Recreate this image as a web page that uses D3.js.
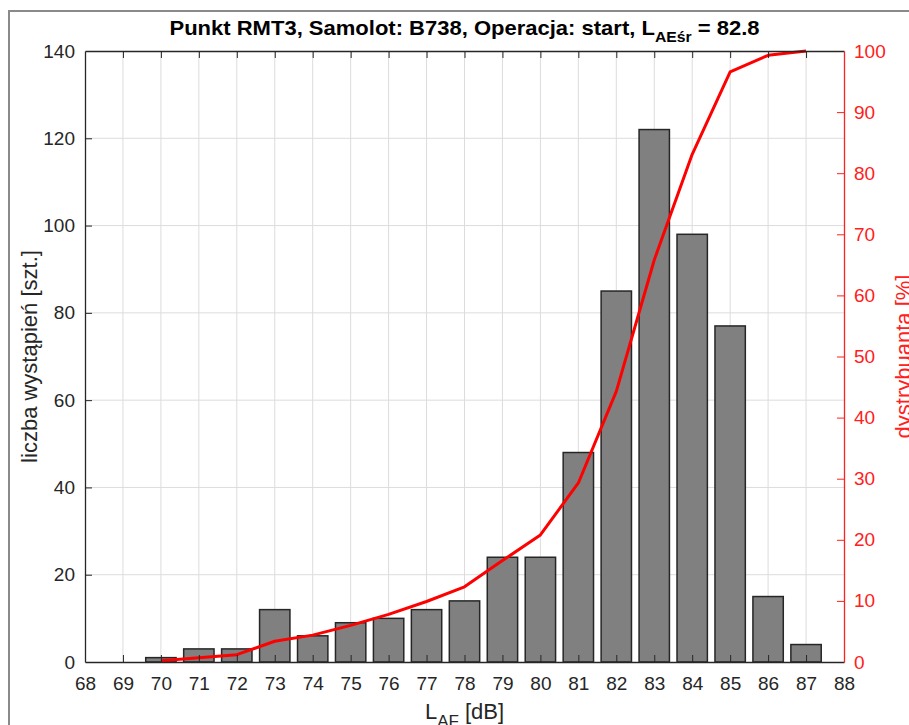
<!DOCTYPE html>
<html>
<head>
<meta charset="utf-8">
<script src="https://cdn.jsdelivr.net/npm/d3@7.9.0/dist/d3.min.js"></script>
<style>
  body { margin: 0; background: #fff; }
  svg { display: block; font-family: "Liberation Sans", Arial, sans-serif; }
</style>
</head>
<body>
<svg id="chart" width="909" height="725"></svg>
<script>
// bins of L_AF [dB] and how many times each occurred
const levels = [70, 71, 72, 73, 74, 75, 76, 77, 78, 79, 80, 81, 82, 83, 84, 85, 86, 87];
const counts = [1, 3, 3, 12, 6, 9, 10, 12, 14, 24, 24, 48, 85, 122, 98, 77, 15, 4];
// distribution curve (%) read at each bin
const distribution = [0.2, 0.7, 1.2, 3.4, 4.4, 6.0, 7.8, 9.9, 12.3, 16.6, 20.8, 29.3, 44.3, 65.8, 83.1, 96.6, 99.3, 100];

const xTicks = d3.range(68, 89);
const leftTicks = [0, 20, 40, 60, 80, 100, 120, 140];
const rightTicks = [0, 10, 20, 30, 40, 50, 60, 70, 80, 90, 100];

const margin = { left: 85, right: 65, top: 51, bottom: 63 };
const W = 909, H = 725;
const svg = d3.select('#chart');

// figure frame
svg.append('rect')
  .attr('x', 9).attr('y', 11)
  .attr('width', W + 20).attr('height', H + 20)
  .attr('fill', 'none').attr('stroke', '#8a8a8a').attr('stroke-width', 2);

const x = d3.scaleLinear().domain([68, 88]).range([margin.left, W - margin.right]);
const yL = d3.scaleLinear().domain([0, 140]).range([H - margin.bottom, margin.top]);
const yR = d3.scaleLinear().domain([0, 100]).range([H - margin.bottom, margin.top]);

const x0 = x.range()[0], x1 = x.range()[1];
const y0 = yL.range()[0], y1 = yL.range()[1];

// grid
const grid = svg.append('g').attr('stroke', '#dcdcdc').attr('stroke-width', 1);
grid.selectAll('.gx').data(xTicks.slice(1, -1)).enter().append('line')
  .attr('x1', d => x(d)).attr('x2', d => x(d)).attr('y1', y0).attr('y2', y1);
grid.selectAll('.gy').data(leftTicks.slice(1, -1)).enter().append('line')
  .attr('x1', x0).attr('x2', x1).attr('y1', d => yL(d)).attr('y2', d => yL(d));

// bars
const bw = x(0.8) - x(0);
svg.append('g').selectAll('rect')
  .data(levels)
  .enter()
  .append('rect')
  .attr('x', d => x(d) - bw / 2)
  .attr('y', (d, i) => yL(counts[i]))
  .attr('width', bw)
  .attr('height', (d, i) => y0 - yL(counts[i]))
  .attr('fill', '#808080')
  .attr('stroke', '#262626')
  .attr('stroke-width', 1.5);

// distribution line
const line = d3.line().x(d => x(d[0])).y(d => yR(d[1]));
svg.append('path')
  .datum(levels.map((l, i) => [l, distribution[i]]))
  .attr('d', line)
  .attr('fill', 'none')
  .attr('stroke', '#ff0000')
  .attr('stroke-width', 3)
  .attr('stroke-linejoin', 'round');

const tickColor = '#262626';
const tickLen = 7;

// bottom axis
const axBottom = svg.append('g').attr('transform', `translate(0,${y0})`)
  .call(d3.axisBottom(x).tickValues(xTicks).tickSizeInner(-tickLen).tickSizeOuter(0).tickPadding(15).tickFormat(d3.format('d')));
// top axis (ticks only)
const axTop = svg.append('g').attr('transform', `translate(0,${y1})`)
  .call(d3.axisTop(x).tickValues(xTicks).tickSizeInner(-tickLen).tickSizeOuter(0).tickFormat(''));
// left axis
const axLeft = svg.append('g').attr('transform', `translate(${x0},0)`)
  .call(d3.axisLeft(yL).tickValues(leftTicks).tickSizeInner(-tickLen).tickSizeOuter(0).tickPadding(10));
// right axis
const axRight = svg.append('g').attr('transform', `translate(${x1},0)`)
  .call(d3.axisRight(yR).tickValues(rightTicks).tickSizeInner(-tickLen).tickSizeOuter(0).tickPadding(10));

[axBottom, axTop, axLeft].forEach(g => {
  g.selectAll('path').attr('stroke', tickColor).attr('stroke-width', 1.3);
  g.selectAll('line').attr('stroke', tickColor).attr('stroke-width', 1);
  g.selectAll('text').attr('fill', '#262626').attr('font-size', 19)
    .attr('font-family', '"Liberation Sans", Arial, sans-serif');
});
axRight.selectAll('path').attr('stroke', '#ff2020').attr('stroke-width', 1.3);
axRight.selectAll('line').attr('stroke', '#ff2020').attr('stroke-width', 1);
axRight.selectAll('text').attr('fill', '#ff2020').attr('font-size', 19)
  .attr('font-family', '"Liberation Sans", Arial, sans-serif');
// drop the edge ticks that sit on the box corners
axTop.selectAll('.tick line').filter(d => d === 68 || d === 88).remove();
axBottom.selectAll('.tick line').filter(d => d === 68 || d === 88).remove();
axLeft.selectAll('.tick line').filter(d => d === 0 || d === 140).remove();
axRight.selectAll('.tick line').filter(d => d === 0 || d === 100).remove();

// title
const title = svg.append('text')
  .attr('x', (x0 + x1) / 2).attr('y', 35)
  .attr('text-anchor', 'middle')
  .attr('font-size', 21).attr('font-weight', 'bold').attr('fill', '#000')
  .attr('textLength', 590).attr('lengthAdjust', 'spacingAndGlyphs');
title.append('tspan').text('Punkt RMT3, Samolot: B738, Operacja: start, L');
title.append('tspan').attr('font-size', 15).attr('dy', 7).text('AEśr');
title.append('tspan').attr('dy', -7).text(' = 82.8');

// x label
const xl = svg.append('text')
  .attr('x', (x0 + x1) / 2).attr('y', 719)
  .attr('text-anchor', 'middle')
  .attr('font-size', 22).attr('fill', '#262626');
xl.append('tspan').text('L');
xl.append('tspan').attr('font-size', 17).attr('dy', 8).text('AF');
xl.append('tspan').attr('dy', -8).text(' [dB]');

// left y label
svg.append('text')
  .attr('transform', `translate(37,${(y0 + y1) / 2}) rotate(-90)`)
  .attr('text-anchor', 'middle')
  .attr('font-size', 22).attr('fill', '#262626')
  .text('liczba wystąpień [szt.]');

// right y label
svg.append('text')
  .attr('transform', `translate(911,${(y0 + y1) / 2}) rotate(-90)`)
  .attr('text-anchor', 'middle')
  .attr('font-size', 22).attr('fill', '#ff2020')
  .text('dystrybuanta [%]');
</script>
</body>
</html>
